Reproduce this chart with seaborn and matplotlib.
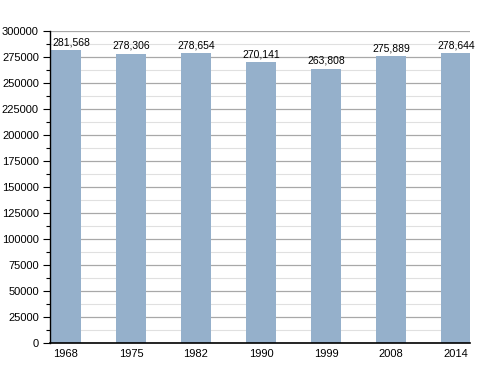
import numpy as np
import seaborn as sns
import matplotlib.pyplot as plt
import matplotlib.ticker as mticker

# Population by census year
years = ['1968', '1975', '1982', '1990', '1999', '2008', '2014']
population = [281568, 278306, 278654, 270141, 263808, 275889, 278644]

sns.set_style("white")
plt.rcParams['font.family'] = ['Liberation Sans', 'DejaVu Sans']
plt.rcParams['font.size'] = 8
plt.rcParams['text.color'] = 'black'
plt.rcParams['xtick.color'] = 'black'
plt.rcParams['ytick.color'] = 'black'

fig = plt.figure(figsize=(5, 3.73), dpi=100)
ax = fig.add_axes([0.1, 0.0804, 0.84, 0.8366])

sns.barplot(x=years, y=population, color='#95b0cb', saturation=1, width=0.47,
            edgecolor='none', linewidth=0, ax=ax, zorder=3)

# value labels above bars (first one nudged right so it stays inside the axes)
for i, v in enumerate(population):
    dx = 5 if i == 0 else 0
    ax.annotate(f'{v:,}', (i, v), xytext=(dx, 3), textcoords='offset pixels',
                ha='center', va='bottom', fontsize=7.5, color='black')

ax.set_xlim(-0.246, 6.215)
ax.set_ylim(0, 300000)
ax.yaxis.set_major_locator(mticker.MultipleLocator(25000))
ax.yaxis.set_minor_locator(mticker.MultipleLocator(12500))
ax.grid(axis='y', which='major', color='#a8a8a8', linewidth=0.9, zorder=0)
ax.grid(axis='y', which='minor', color='#e0e0e0', linewidth=0.8, zorder=0)
ax.set_axisbelow(True)

for s in ['top', 'right']:
    ax.spines[s].set_visible(False)
for s in ['left', 'bottom']:
    ax.spines[s].set_color('black')
    ax.spines[s].set_zorder(5)
ax.spines['left'].set_linewidth(1)
ax.spines['bottom'].set_linewidth(1.2)

ax.tick_params(axis='y', which='major', left=True, length=5, width=0.8, pad=3, labelsize=8)
ax.tick_params(axis='y', which='minor', left=True, length=3, width=0.8)
ax.tick_params(axis='x', bottom=False, pad=0.5, labelsize=8)
ax.set_xlabel('')
ax.set_ylabel('')

plt.savefig('out.png', dpi=100)
